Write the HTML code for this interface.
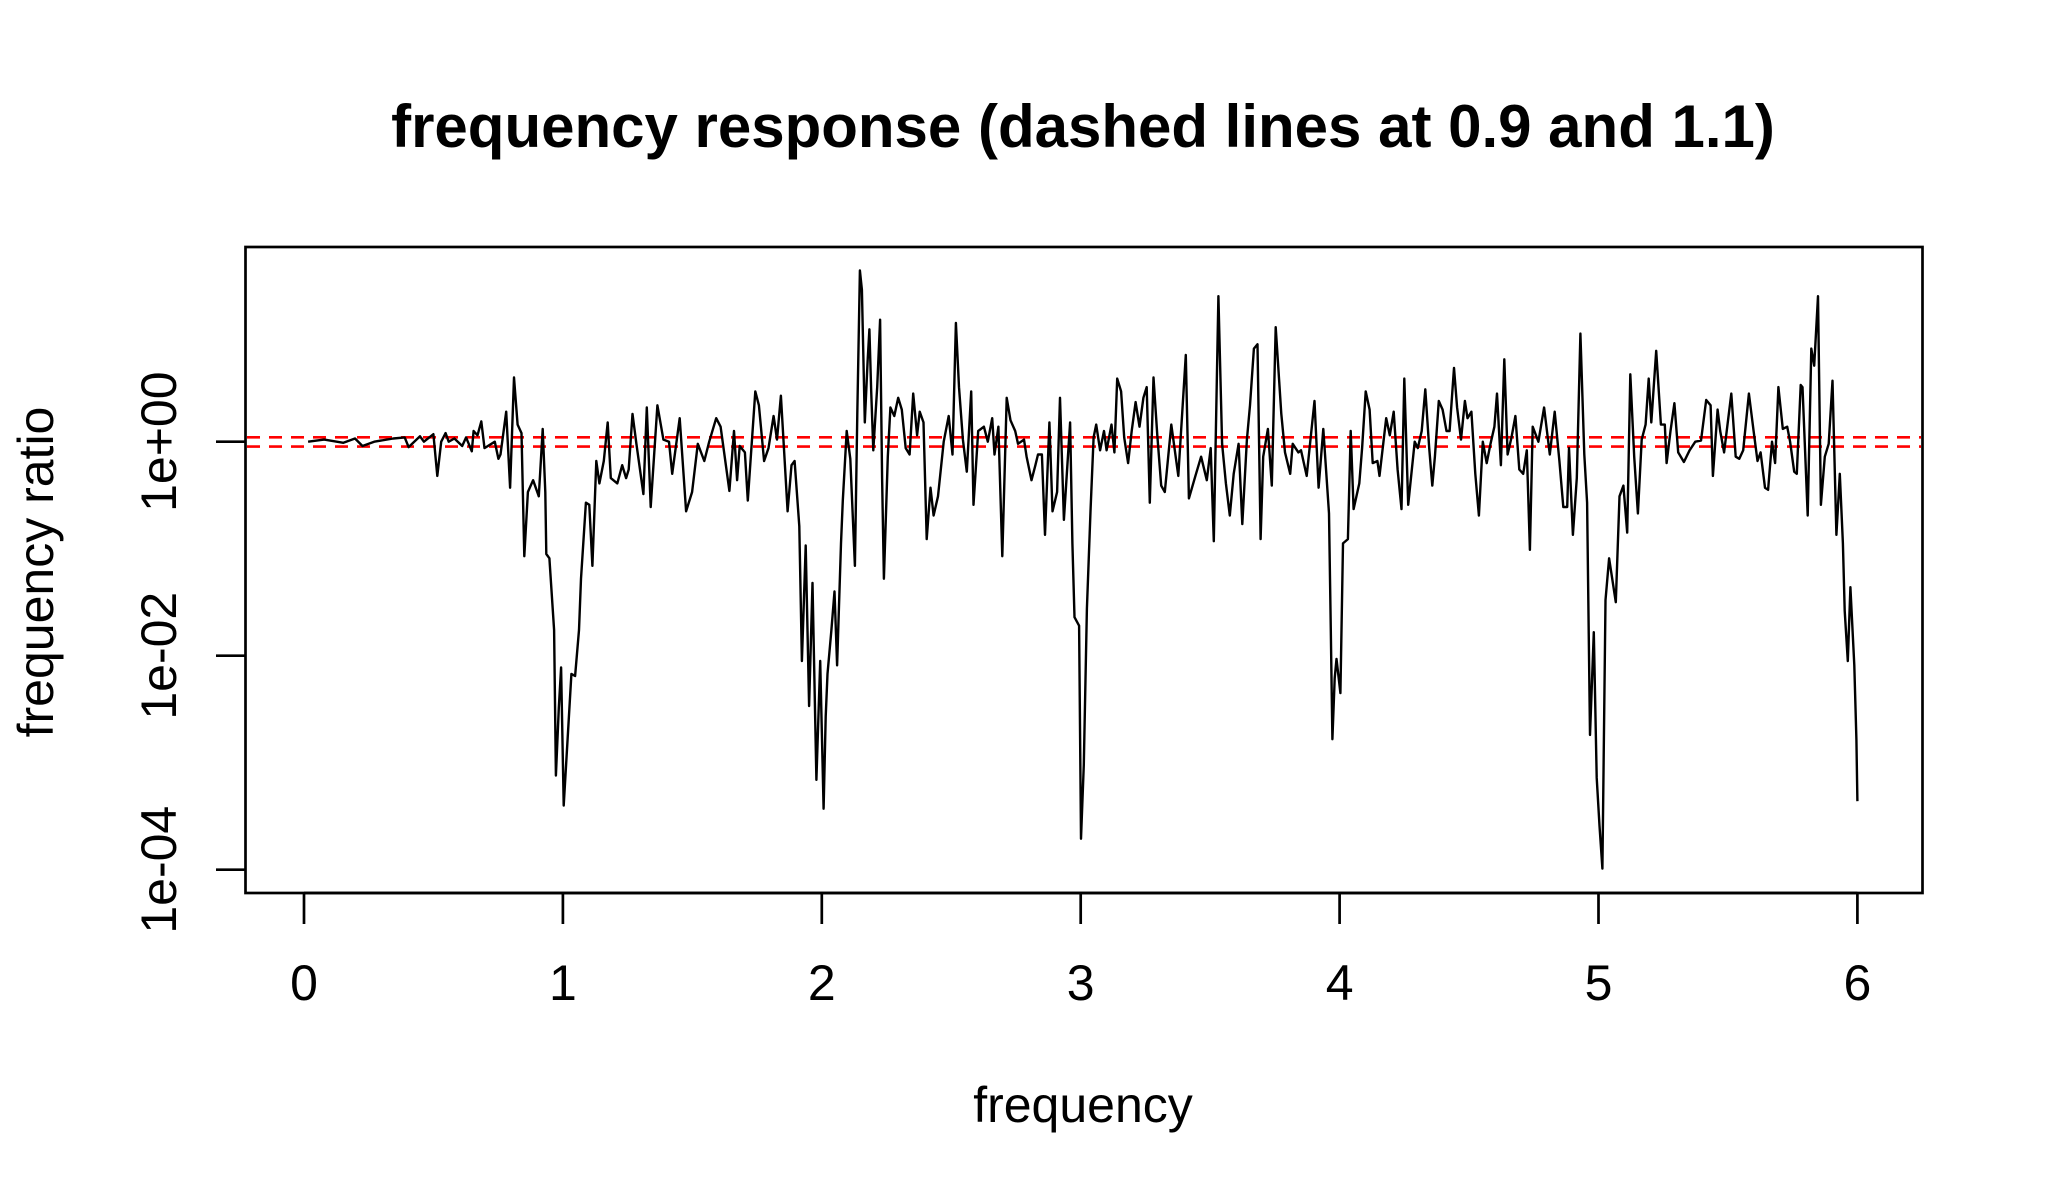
<!DOCTYPE html>
<html><head><meta charset="utf-8"><style>
html,body{margin:0;padding:0;background:#fff;}
svg{display:block;font-family:"Liberation Sans",Arial,sans-serif;}
</style></head><body>
<svg id="chart" width="2049" height="1200" viewBox="0 0 2049 1200" xmlns="http://www.w3.org/2000/svg">
<rect x="0" y="0" width="2049" height="1200" fill="#fff"/>
<text x="1083" y="147" font-size="60" font-weight="bold" text-anchor="middle">frequency response (dashed lines at 0.9 and 1.1)</text>
<text x="1083" y="1122" font-size="50" text-anchor="middle">frequency</text>
<text x="0" y="0" font-size="50" text-anchor="middle" transform="translate(53,572) rotate(-90)">frequency ratio</text>
<g id="xaxis"></g>
<g id="yaxis"></g>
<g id="refs"></g>
<g id="series"></g>
<rect x="245.5" y="247" width="1677" height="646" fill="none" stroke="#000" stroke-width="2.7"/>
</svg>
<script>
const freq = [0.016,0.078,0.152,0.197,0.226,0.271,0.345,0.389,0.404,0.448,0.463,0.5,0.515,0.530,0.547,0.559,0.581,0.611,0.626,0.648,0.655,0.670,0.685,0.697,0.737,0.751,0.759,0.781,0.796,0.811,0.825,0.840,0.851,0.865,0.885,0.907,0.922,0.932,0.936,0.948,0.966,0.973,0.984,0.993,1.003,1.018,1.033,1.047,1.062,1.070,1.089,1.102,1.114,1.129,1.141,1.158,1.173,1.185,1.210,1.229,1.244,1.254,1.269,1.284,1.311,1.324,1.339,1.365,1.388,1.410,1.422,1.451,1.476,1.499,1.521,1.546,1.565,1.592,1.609,1.643,1.661,1.673,1.683,1.703,1.714,1.743,1.757,1.777,1.794,1.814,1.827,1.842,1.868,1.883,1.895,1.913,1.923,1.938,1.951,1.964,1.979,1.994,2.007,
2.015,2.022,2.037,2.049,2.059,2.074,2.081,2.096,2.110,2.128,2.137,2.147,2.155,2.166,2.177,2.184,2.191,2.199,2.214,2.225,2.233,2.240,2.255,2.265,2.280,2.295,2.309,2.324,2.339,2.353,2.368,2.378,2.393,2.405,2.420,2.432,2.449,2.471,2.490,2.505,2.518,2.530,2.545,2.560,2.577,2.586,2.604,2.626,2.641,2.658,2.667,2.682,2.697,2.714,2.729,2.747,2.758,2.781,2.791,2.810,2.825,2.835,2.850,2.862,2.879,2.891,2.909,2.920,2.935,2.959,2.968,2.976,2.994,3.001,3.012,3.024,3.038,3.050,3.060,3.075,3.090,3.100,3.119,3.130,3.141,3.156,3.168,3.183,3.197,3.212,3.227,3.242,3.255,3.267,3.281,3.296,3.311,3.325,3.350,3.377,3.406,3.418,3.443,3.465,3.487,3.502,3.514,3.532,3.546,3.561,3.576,3.591,3.610,3.624,3.642,3.654,3.669,3.683,3.695,3.705,3.723,3.738,3.753,3.775,3.789,3.809,3.819,3.841,3.851,3.873,3.903,3.919,3.937,3.959,3.966,3.972,3.981,3.988,4.003,4.013,4.032,4.043,4.054,4.076,4.087,4.101,4.116,4.128,4.146,4.154,4.180,4.194,4.209,4.224,4.239,4.250,4.265,4.290,
4.302,4.317,4.331,4.346,4.358,4.368,4.383,4.398,4.413,4.425,4.442,4.454,4.469,4.484,4.494,4.509,4.524,4.538,4.553,4.568,4.583,4.598,4.608,4.623,4.636,4.649,4.664,4.679,4.694,4.709,4.723,4.735,4.746,4.768,4.790,4.812,4.831,4.849,4.864,4.879,4.886,4.901,4.916,4.930,4.945,4.956,4.967,4.982,4.993,5.004,5.015,5.027,5.041,5.067,5.081,5.096,5.111,5.123,5.138,5.152,5.167,5.182,5.194,5.204,5.223,5.241,5.256,5.263,5.278,5.293,5.308,5.330,5.352,5.374,5.396,5.416,5.433,5.442,5.460,5.470,5.485,5.513,5.530,5.544,5.559,5.581,5.599,5.614,5.626,5.643,5.655,5.670,5.682,5.695,5.712,5.729,5.740,5.756,5.766,5.781,5.788,5.808,5.822,5.833,5.848,5.859,5.874,5.889,5.904,5.919,5.932,5.944,5.951,5.963,5.973,5.988,5.996,6.000];
const log10ratio = [0,0.02,-0.01,0.03,-0.04,0,0.03,0.04,-0.05,0.05,0,0.07,-0.32,0,0.08,0,0.03,-0.04,0.04,-0.09,0.10,0.06,0.19,-0.06,0,-0.16,-0.12,0.28,-0.43,0.60,0.16,0.08,-1.07,-0.47,-0.36,-0.51,0.12,-0.47,-1.05,-1.09,-1.76,-3.12,-2.49,-2.11,-3.40,-2.78,-2.17,-2.19,-1.76,-1.28,-0.57,-0.59,-1.16,-0.18,-0.39,-0.18,0.18,-0.34,-0.39,-0.22,-0.34,-0.26,0.26,-0.02,-0.49,0.32,-0.61,0.34,0.02,0,-0.30,0.22,-0.65,-0.47,-0.02,-0.18,0,0.22,0.14,-0.46,0.10,-0.36,-0.04,-0.10,-0.55,0.47,0.34,-0.18,-0.06,0.24,0.02,0.43,-0.65,-0.22,-0.18,-0.79,-2.05,-0.97,-2.47,-1.32,-3.16,-2.05,-3.43,
-2.57,-2.17,-1.76,-1.40,-2.09,-0.95,-0.55,0.10,-0.16,-1.16,0.26,1.60,1.42,0.18,0.75,1.05,0.47,-0.08,0.51,1.14,-0.34,-1.28,-0.14,0.32,0.24,0.41,0.30,-0.06,-0.12,0.45,0.06,0.28,0.18,-0.91,-0.43,-0.69,-0.51,0,0.24,-0.12,1.11,0.51,0.02,-0.28,0.47,-0.59,0.10,0.14,0,0.22,-0.12,0.14,-1.07,0.41,0.20,0.10,-0.02,0.02,-0.14,-0.36,-0.22,-0.12,-0.12,-0.87,0.18,-0.65,-0.47,0.41,-0.73,0.18,-0.95,-1.64,-1.72,-3.71,-3.02,-1.56,-0.65,0.04,0.16,-0.08,0.10,-0.08,0.16,-0.10,0.59,0.47,0.04,-0.20,0.10,0.37,0.14,0.41,0.51,-0.57,0.60,0.06,-0.41,-0.47,0.16,-0.32,0.81,-0.53,-0.32,-0.14,-0.36,-0.06,-0.93,1.36,-0.02,-0.39,-0.69,-0.30,-0.02,-0.77,0.02,0.34,0.87,0.91,-0.91,-0.14,0.12,-0.41,1.07,0.26,-0.10,-0.30,-0.02,-0.10,-0.08,-0.32,0.38,-0.43,0.12,-0.67,-1.76,-2.78,-2.21,-2.03,-2.35,-0.95,-0.91,0.10,-0.63,-0.39,-0.06,0.47,0.30,-0.20,-0.18,-0.32,0.22,0.06,0.28,-0.26,-0.63,0.59,-0.59,0,
-0.06,0.10,0.49,-0.06,-0.41,-0.14,0.38,0.30,0.10,0.10,0.69,0.32,0.02,0.38,0.22,0.28,-0.30,-0.69,0,-0.20,-0.02,0.14,0.45,-0.22,0.77,-0.12,0.04,0.24,-0.26,-0.30,-0.08,-1.01,0.14,0,0.32,-0.12,0.28,-0.18,-0.61,-0.61,-0.06,-0.87,-0.34,1.01,-0.12,-0.57,-2.74,-1.78,-3.14,-3.59,-3.99,-1.48,-1.09,-1.50,-0.51,-0.41,-0.85,0.63,-0.14,-0.67,0.02,0.16,0.59,0.18,0.85,0.16,0.16,-0.20,0.10,0.36,-0.10,-0.19,-0.08,0,0.01,0.39,0.34,-0.32,0.30,0.10,-0.10,0.45,-0.14,-0.16,-0.08,0.45,0.10,-0.18,-0.10,-0.43,-0.45,0,-0.20,0.51,0.12,0.14,0,-0.28,-0.30,0.53,0.51,-0.69,0.87,0.71,1.36,-0.59,-0.14,-0.02,0.57,-0.87,-0.30,-0.95,-1.58,-2.05,-1.36,-2.09,-2.78,-3.36];
const xTicks = [0,1,2,3,4,5,6];
const yTickExp = [0,-2,-4];
const yTickLabels = ["1e+00","1e-02","1e-04"];
const refLevels = [0.9,1.1];

const NS = "http://www.w3.org/2000/svg";
function sx(f){ return 304 + f*258.9; }
function sy(l){ return 441.7 - l*107; }
function mk(tag, attrs, parent){ const e=document.createElementNS(NS,tag); for(const k in attrs) e.setAttribute(k,attrs[k]); parent.appendChild(e); return e; }

const xa=document.getElementById('xaxis');
mk('line',{x1:sx(xTicks[0]),x2:sx(xTicks[xTicks.length-1]),y1:893,y2:893,stroke:'#000','stroke-width':2.7},xa);
xTicks.forEach(t=>{
  const l=mk('line',{x1:sx(t),x2:sx(t),y1:893,y2:924,stroke:'#000','stroke-width':2.7},xa);
  
  
  const tx=mk('text',{x:sx(t),y:1000,'font-size':50,'text-anchor':'middle'},xa);
  tx.textContent=String(t);
  
  
});
const ya=document.getElementById('yaxis');
yTickExp.forEach((e,i)=>{
  const l=mk('line',{x1:216,x2:245.5,y1:sy(e),y2:sy(e),stroke:'#000','stroke-width':2.7},ya);
  
  
  const tx=mk('text',{x:0,y:0,'font-size':50,'text-anchor':'middle',transform:'translate(176,'+sy(e)+') rotate(-90)'},ya);
  tx.textContent=yTickLabels[i];
  
  
});
const rf=document.getElementById('refs');
refLevels.forEach(v=>{
  const y=sy(Math.log10(v));
  const l=mk('line',{x1:247,x2:1921,y1:y,y2:y,stroke:'#ff0000','stroke-width':2.6,'stroke-dasharray':'13 9'},rf);
  
  
});
const sg=document.getElementById('series');
let d='';
freq.forEach((f,i)=>{ d+=(i?'L':'M')+sx(f).toFixed(1)+','+sy(log10ratio[i]).toFixed(1); });
const p=mk('path',{d:d,fill:'none',stroke:'#000','stroke-width':2.4,'stroke-linejoin':'round'},sg);


</script>
</body></html>
